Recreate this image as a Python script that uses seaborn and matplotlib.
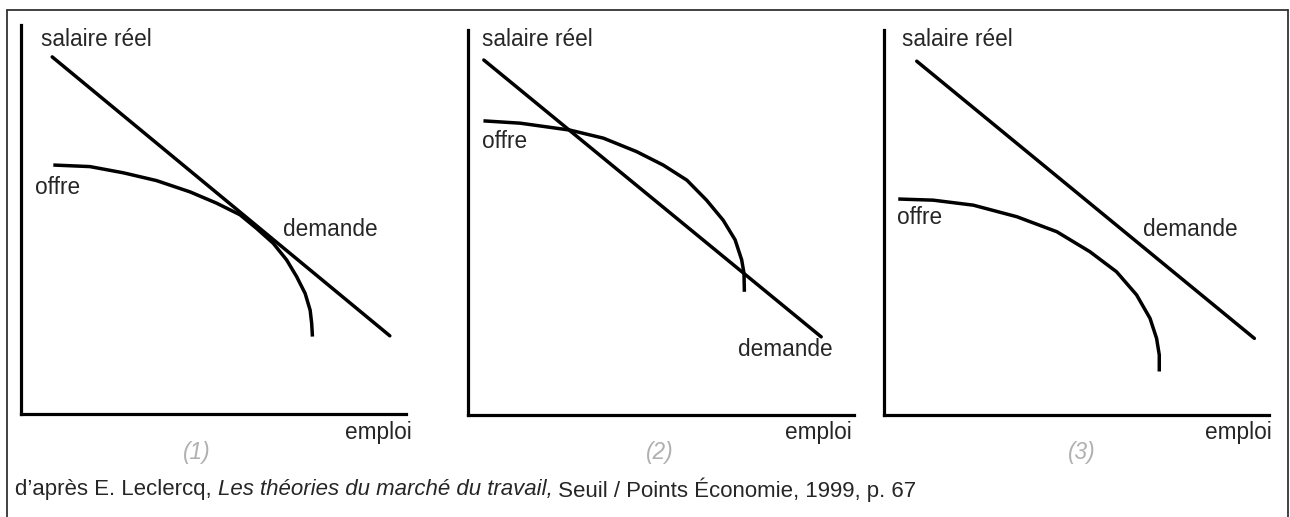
import matplotlib
matplotlib.use("Agg")
import matplotlib.pyplot as plt
import seaborn as sns
import pandas as pd
from matplotlib.lines import Line2D

sns.set_theme(style="white")
plt.rcParams['font.family'] = ['Liberation Sans', 'DejaVu Sans']

W, H = 1290, 517

# ---- data (emploi 0-100, salaire réel 0-100 in each panel) ----
p1_dem_x = [8.1, 95.8]
p1_dem_y = [91.8, 20.1]
p1_off_x = [8.4, 17.9, 26.6, 35.2, 43.9, 50.8, 56.9, 61.2, 65.5, 69.0, 71.6, 73.8, 75.1, 75.5, 75.7]
p1_off_y = [64.0, 63.6, 62.0, 60.0, 57.1, 54.2, 51.2, 47.7, 43.9, 39.6, 35.3, 31.0, 26.7, 23.3, 19.9]

p2_dem_x = [4.1, 91.5]
p2_dem_y = [92.2, 20.3]
p2_off_x = [4.0, 13.5, 26.4, 35.1, 43.7, 50.6, 56.7, 61.8, 66.1, 69.2, 70.9, 71.5, 71.6]
p2_off_y = [76.4, 75.8, 74.0, 71.9, 68.4, 64.9, 61.0, 55.8, 50.6, 45.5, 40.3, 36.8, 32.0]

p3_dem_x = [8.5, 96.2]
p3_dem_y = [91.9, 19.9]
p3_off_x = [3.7, 12.8, 23.2, 34.5, 44.9, 53.5, 60.4, 65.6, 69.1, 70.8, 71.5, 71.5]
p3_off_y = [56.1, 55.8, 54.5, 51.5, 47.6, 42.4, 37.2, 31.2, 25.1, 19.9, 15.6, 11.3]

panel_labels = ["(1)", "(2)", "(3)"]
y_label = "salaire réel"
x_label = "emploi"
supply_label = "offre"
demand_label = "demande"

panels = [
    dict(box=(21, 25, 406, 414), dem=(p1_dem_x, p1_dem_y), off=(p1_off_x, p1_off_y),
         ylab=(41, 40), offl=(35, 187), deml=(283, 230), xlab=(412, 432), num=(197, 453)),
    dict(box=(468, 30, 854, 415), dem=(p2_dem_x, p2_dem_y), off=(p2_off_x, p2_off_y),
         ylab=(482, 40), offl=(482, 142), deml=(738, 349), xlab=(852, 432), num=(660, 453)),
    dict(box=(884, 30, 1269, 415), dem=(p3_dem_x, p3_dem_y), off=(p3_off_x, p3_off_y),
         ylab=(902, 40), offl=(897, 218), deml=(1143, 230), xlab=(1272, 432), num=(1082, 453)),
]

fig = plt.figure(figsize=(W / 100, H / 100), dpi=100)
fig.patch.set_facecolor("white")

def fx(px):
    return px / W

def fy(py):
    return 1 - py / H

FS = 16.3
LW = 2.5

for i, p in enumerate(panels):
    l, t, r, b = p["box"]
    ax = fig.add_axes([fx(l), fy(b), (r - l) / W, (b - t) / H])
    ax.set_facecolor("none")
    dem = pd.DataFrame({"x": p["dem"][0], "y": p["dem"][1]})
    off = pd.DataFrame({"x": p["off"][0], "y": p["off"][1]})
    sns.lineplot(data=dem, x="x", y="y", ax=ax, color="black", linewidth=LW,
                 sort=False, estimator=None, solid_capstyle="round")
    sns.lineplot(data=off, x="x", y="y", ax=ax, color="black", linewidth=LW,
                 sort=False, estimator=None, solid_joinstyle="round", solid_capstyle="butt")
    ax.set_xlim(0, 100)
    ax.set_ylim(0, 100)
    ax.set_xticks([])
    ax.set_yticks([])
    ax.set_xlabel("")
    ax.set_ylabel("")
    for s in ["top", "right"]:
        ax.spines[s].set_visible(False)
    for s in ["left", "bottom"]:
        ax.spines[s].set_color("black")
        ax.spines[s].set_linewidth(2.3)

    fig.text(fx(p["ylab"][0]), fy(p["ylab"][1]), y_label, fontsize=FS, ha="left", va="center")
    fig.text(fx(p["offl"][0]), fy(p["offl"][1]), supply_label, fontsize=FS, ha="left", va="center")
    fig.text(fx(p["deml"][0]), fy(p["deml"][1]), demand_label, fontsize=FS, ha="left", va="center")
    fig.text(fx(p["xlab"][0]), fy(p["xlab"][1]), x_label, fontsize=FS, ha="right", va="center")
    fig.text(fx(p["num"][0]), fy(p["num"][1]), panel_labels[i], fontsize=FS, ha="center",
             va="center", style="italic", color="#b0b0b0")

# caption with mixed styles
parts = [("d’après E. Leclercq, ", "normal"),
         ("Les théories du marché du travail,", "italic"),
         (" Seuil / Points Économie, 1999, p. 67", "normal")]
fig.canvas.draw()
renderer = fig.canvas.get_renderer()
x0 = 15
for txt, st in parts:
    tt = fig.text(fx(x0), fy(490), txt, fontsize=16, ha="left", va="center", style=st)
    bb = tt.get_window_extent(renderer=renderer)
    x0 += bb.width

# outer frame (left, top, right)
frame_col = "#333333"
fig.add_artist(Line2D([fx(7), fx(7)], [0, fy(10)], color=frame_col, lw=1.3))
fig.add_artist(Line2D([fx(7), fx(1288)], [fy(10), fy(10)], color=frame_col, lw=1.3))
fig.add_artist(Line2D([fx(1288), fx(1288)], [0, fy(10)], color=frame_col, lw=1.3))

fig.savefig("out.png", dpi=100, facecolor="white")
